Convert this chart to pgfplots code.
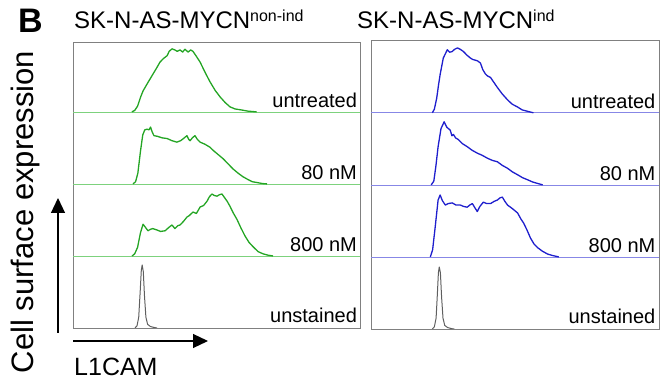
\documentclass[border=0pt]{standalone}
\usepackage{fontspec}
\setmainfont{Liberation Sans}
\usepackage{pgfplots}
\pgfplotsset{compat=1.18}
\usetikzlibrary{arrows.meta}
\definecolor{gcurve}{RGB}{36,165,36}
\definecolor{gbase}{RGB}{125,210,125}
\definecolor{bcurve}{RGB}{30,30,205}
\definecolor{bbase}{RGB}{135,135,230}
\definecolor{ucurve}{RGB}{95,95,95}
\definecolor{boxgray}{RGB}{128,128,128}
\tikzset{lab/.style={anchor=base east, font=\fontsize{20bp}{24bp}\selectfont, inner sep=0pt}}
\pgfplotsset{
  panel/.style={scale only axis, anchor=south west, width=287bp, height=286bp,
    xmin=0, xmax=100, ymin=0, ymax=3.97, xtick=\empty, ytick=\empty,
    axis line style={draw=boxgray, line width=0.8bp}},
  curve/.style={line width=1.3bp, line join=round, no marks},
  base/.style={line width=0.6bp, no marks}
}
\begin{document}
\begin{tikzpicture}
\useasboundingbox (0bp,0bp) rectangle (662bp,385bp);
% ---------- left panel ----------
\begin{axis}[panel, at={(73bp,57bp)}]
\addplot[base, gbase] coordinates {(0,3) (100,3)};
\addplot[base, gbase] coordinates {(0,2) (100,2)};
\addplot[base, gbase] coordinates {(0,1) (100,1)};
\addplot[curve, gcurve] table[y expr=\thisrow{y}+3] {
x y
20.5 0
21.5 0.02
22.5 0.08
23.5 0.2
24.4 0.29
26 0.4
27.5 0.5
29 0.6
30.3 0.69
31.5 0.74
32.8 0.78
33.5 0.84
34.5 0.875
35.5 0.86
36.3 0.84
37.3 0.86
38.2 0.83
39 0.87
40.1 0.83
41 0.86
41.8 0.84
43 0.77
44.3 0.69
46 0.55
47.7 0.42
49.5 0.3
51.2 0.21
53 0.13
54.7 0.07
56.5 0.04
58.2 0.03
61 0.01
64 0
};
\addplot[curve, gcurve] table[y expr=\thisrow{y}+2] {
x y
20.9 0
21.8 0.03
22.6 0.15
23.5 0.45
24.3 0.68
25 0.75
25.8 0.76
26.5 0.75
27 0.79
27.6 0.72
28.2 0.67
29.5 0.66
31 0.64
32.8 0.63
34.5 0.6
36.2 0.58
37.5 0.6
38.5 0.63
39.7 0.67
40.3 0.62
40.8 0.6
41.6 0.64
42.5 0.67
43.3 0.62
44.3 0.58
46 0.55
47.7 0.51
49 0.46
50.5 0.41
52.3 0.35
54 0.28
55.7 0.21
57.5 0.15
59.2 0.1
61 0.06
62.5 0.03
64 0.02
66 0.005
67.6 0
};
\addplot[curve, gcurve] table[y expr=\thisrow{y}+1] {
x y
20.6 0
21.5 0.03
22.5 0.12
23.5 0.32
24.4 0.44
25.2 0.4
26.1 0.35
27 0.37
27.8 0.38
29.3 0.36
30.5 0.34
32.1 0.35
33.5 0.4
34.5 0.43
35.5 0.38
36.5 0.42
37.3 0.43
38.5 0.48
39.7 0.54
40.5 0.56
41.8 0.61
43 0.59
44.3 0.68
45.5 0.7
46.7 0.76
47.5 0.82
48.4 0.86
49.2 0.84
50.2 0.83
51 0.85
51.9 0.86
52.8 0.81
53.7 0.76
54.7 0.69
55.8 0.6
57.1 0.51
58.5 0.39
59.9 0.28
61.3 0.19
62.7 0.13
64.5 0.06
66.2 0.03
68 0.01
69.7 0
};
\addplot[curve, ucurve, line width=1bp] table {
x y
21.6 0
22.3 0.03
22.9 0.15
23.4 0.5
23.8 0.8
24.1 0.875
24.5 0.78
24.9 0.45
25.4 0.15
26 0.05
27 0.02
28.5 0.005
29.3 0
};
\node[lab] at (axis cs:99,3.06) {untreated};
\node[lab] at (axis cs:99,2.06) {80 nM};
\node[lab] at (axis cs:99,1.06) {800 nM};
\node[lab] at (axis cs:99,0.07) {unstained};
\end{axis}
% ---------- right panel ----------
\begin{axis}[panel, at={(371bp,56bp)}, width=288bp, height=289bp, ymax=4.01]
\addplot[base, bbase] coordinates {(0,3) (100,3)};
\addplot[base, bbase] coordinates {(0,2) (100,2)};
\addplot[base, bbase] coordinates {(0,1) (100,1)};
\addplot[curve, bcurve] table[y expr=\thisrow{y}+3] {
x y
21.3 0
22 0.05
22.8 0.2
23.5 0.4
24 0.53
25.1 0.76
26.5 0.875
27.3 0.84
28.2 0.85
29 0.88
30 0.9
31 0.88
32.1 0.85
33.3 0.8
34.5 0.76
35.3 0.74
36.2 0.73
37 0.72
38 0.69
38.8 0.6
39.7 0.54
40.5 0.51
41.5 0.49
42.7 0.42
43.9 0.35
45.6 0.26
47.4 0.18
49 0.12
50.9 0.08
52.5 0.04
54.4 0.02
56.4 0
};
\addplot[curve, bcurve] table[y expr=\thisrow{y}+2] {
x y
20.9 0
21.8 0.05
22.5 0.25
23.3 0.53
24.3 0.78
25.4 0.875
26.3 0.8
27.5 0.76
28.1 0.68
28.6 0.7
29.4 0.65
30.3 0.63
31.8 0.57
33.4 0.53
35.1 0.48
36.9 0.44
38.6 0.41
40.4 0.37
42.1 0.34
43.9 0.32
45.6 0.27
47.4 0.23
49.1 0.18
50.9 0.14
52.6 0.1
54.4 0.07
56.1 0.04
57.8 0.02
59.6 0
};
\addplot[curve, bcurve] table[y expr=\thisrow{y}+1] {
x y
20.6 0
21.4 0.1
22.3 0.42
23.3 0.79
24 0.86
24.8 0.78
25.8 0.72
26.8 0.74
28.2 0.75
29.5 0.72
31 0.72
32.2 0.7
33.4 0.69
34.3 0.72
35.2 0.74
36.1 0.68
36.9 0.63
37.8 0.7
39 0.76
40.2 0.74
41.5 0.74
42.7 0.77
43.9 0.79
44.8 0.82
45.6 0.83
46.5 0.77
47.4 0.72
49.1 0.67
50.9 0.61
52 0.53
53 0.47
54.2 0.37
55.4 0.26
56.6 0.18
57.8 0.13
59.5 0.08
61.3 0.04
63 0.02
65.2 0
};
\addplot[curve, ucurve, line width=1bp] table {
x y
21.3 0
22 0.03
22.6 0.15
23 0.45
23.4 0.78
23.7 0.86
24.1 0.78
24.5 0.45
25 0.15
25.6 0.05
26.6 0.02
28 0.005
28.9 0
};
\node[lab] at (axis cs:98.8,3.06) {untreated};
\node[lab] at (axis cs:98.8,2.06) {80 nM};
\node[lab] at (axis cs:98.8,1.06) {800 nM};
\node[lab] at (axis cs:98.8,0.07) {unstained};
\end{axis}
% ---------- annotations ----------
\node[anchor=base west, inner sep=0pt, font=\bfseries\fontsize{34bp}{34bp}\selectfont] at (18bp,352bp) {B};
\node[anchor=base west, inner sep=0pt, font=\fontsize{24bp}{28bp}\selectfont] at (74bp,356bp)
  {SK-N-AS-MYCN\raisebox{7bp}{\fontsize{16bp}{16bp}\selectfont non-ind}};
\node[anchor=base west, inner sep=0pt, font=\fontsize{24bp}{28bp}\selectfont] at (357bp,356bp)
  {SK-N-AS-MYCN\raisebox{7bp}{\fontsize{16bp}{16bp}\selectfont ind}};
\node[rotate=90, anchor=base, inner sep=0pt, font=\fontsize{31bp}{34bp}\selectfont] at (33bp,173bp) {Cell surface expression};
\node[anchor=base west, inner sep=0pt, font=\fontsize{25bp}{28bp}\selectfont] at (74bp,10bp) {L1CAM};
\draw[-{Triangle[length=15bp,width=14bp]}, line width=1.2bp] (58bp,52bp) -- (58bp,187bp);
\draw[-{Triangle[length=15bp,width=14bp]}, line width=1.2bp] (73bp,44bp) -- (208bp,44bp);
\end{tikzpicture}
\end{document}
